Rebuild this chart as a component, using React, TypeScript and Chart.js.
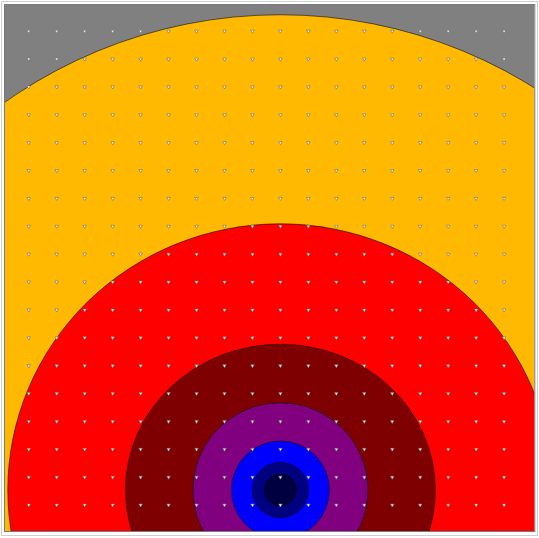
import React, { useEffect, useRef } from "react";
import { Chart, registerables } from "chart.js";

Chart.register(...registerables);

// Grid of sample points (columns / rows)
const gridX = [0, 1, 2, 3, 4, 5, 6, 7, 8, 9, 10, 11, 12, 13, 14, 15, 16, 17];
const gridY = [0, 1, 2, 3, 4, 5, 6, 7, 8, 9, 10, 11, 12, 13, 14, 15, 16, 17];

// Contour centre (data units)
const centerX = 9;
const centerY = 0.54;

// Filled contour levels, outermost first
const levelRadiiX = [17.05, 9.75, 5.54, 3.13, 1.75, 1.0, 0.57];
const levelRadiiY = [17.05, 9.55, 5.23, 3.13, 1.76, 0.99, 0.57];
const levelColors = ["#ffb900", "#ff0000", "#7f0000", "#800080", "#0000ff", "#000080", "#000040"];
const backgroundLevelColor = "#808080";

// Axis extents
const xMin = -0.85;
const xMax = 18.08;
const yMin = -0.93;
const yMax = 17.94;

const contourPlugin = {
  id: "contours",
  beforeDatasetsDraw(chart: any) {
    const { ctx, chartArea, scales } = chart;
    const xs = scales.x;
    const ys = scales.y;
    ctx.save();
    ctx.beginPath();
    ctx.rect(chartArea.left, chartArea.top, chartArea.right - chartArea.left, chartArea.bottom - chartArea.top);
    ctx.clip();
    ctx.fillStyle = backgroundLevelColor;
    ctx.fillRect(chartArea.left, chartArea.top, chartArea.right - chartArea.left, chartArea.bottom - chartArea.top);
    const cx = xs.getPixelForValue(centerX);
    const cy = ys.getPixelForValue(centerY);
    for (let i = 0; i < levelColors.length; i++) {
      const rx = Math.abs(xs.getPixelForValue(centerX + levelRadiiX[i]) - cx);
      const ry = Math.abs(ys.getPixelForValue(centerY + levelRadiiY[i]) - cy);
      ctx.beginPath();
      ctx.ellipse(cx, cy, rx, ry, 0, 0, Math.PI * 2);
      ctx.fillStyle = levelColors[i];
      ctx.fill();
      ctx.lineWidth = 1;
      ctx.strokeStyle = "rgba(0,0,0,0.55)";
      ctx.stroke();
    }
    ctx.restore();
  },
  afterDraw(chart: any) {
    const { ctx, chartArea, width, height } = chart;
    ctx.save();
    ctx.lineWidth = 1;
    ctx.strokeStyle = "#cfcfcf";
    ctx.strokeRect(1.5, 1.5, width - 3, height - 4);
    ctx.strokeStyle = "#7a7a7a";
    ctx.strokeRect(chartArea.left - 0.5, chartArea.top - 0.5, chartArea.right - chartArea.left + 1, chartArea.bottom - chartArea.top + 1);
    ctx.restore();
  },
};

export default function App() {
  const ref = useRef<HTMLCanvasElement | null>(null);
  useEffect(() => {
    document.body.style.margin = "0";
    const canvas = ref.current;
    if (!canvas) return;
    const points: { x: number; y: number }[] = [];
    for (const yv of gridY) for (const xv of gridX) points.push({ x: xv, y: yv });
    const chart = new Chart(canvas, {
      type: "scatter",
      data: {
        datasets: [
          {
            data: points,
            pointStyle: "triangle",
            rotation: 180,
            radius: 2.0,
            backgroundColor: "#ffffff",
            borderColor: "rgba(110,110,110,0.9)",
            borderWidth: 0.7,
          } as any,
        ],
      },
      options: {
        animation: false,
        responsive: false,
        maintainAspectRatio: false,
        layout: { padding: { left: 5, top: 5, right: 4, bottom: 7 } },
        plugins: { legend: { display: false }, tooltip: { enabled: false } },
        events: [],
        scales: {
          x: { type: "linear", min: xMin, max: xMax, display: false },
          y: { type: "linear", min: yMin, max: yMax, display: false },
        },
      },
      plugins: [contourPlugin],
    });
    return () => chart.destroy();
  }, []);
  return (
    <div style={{ width: 539, height: 538, background: "#ffffff" }}>
      <canvas ref={ref} width={539} height={538} style={{ display: "block", width: 539, height: 538 }} />
    </div>
  );
}
